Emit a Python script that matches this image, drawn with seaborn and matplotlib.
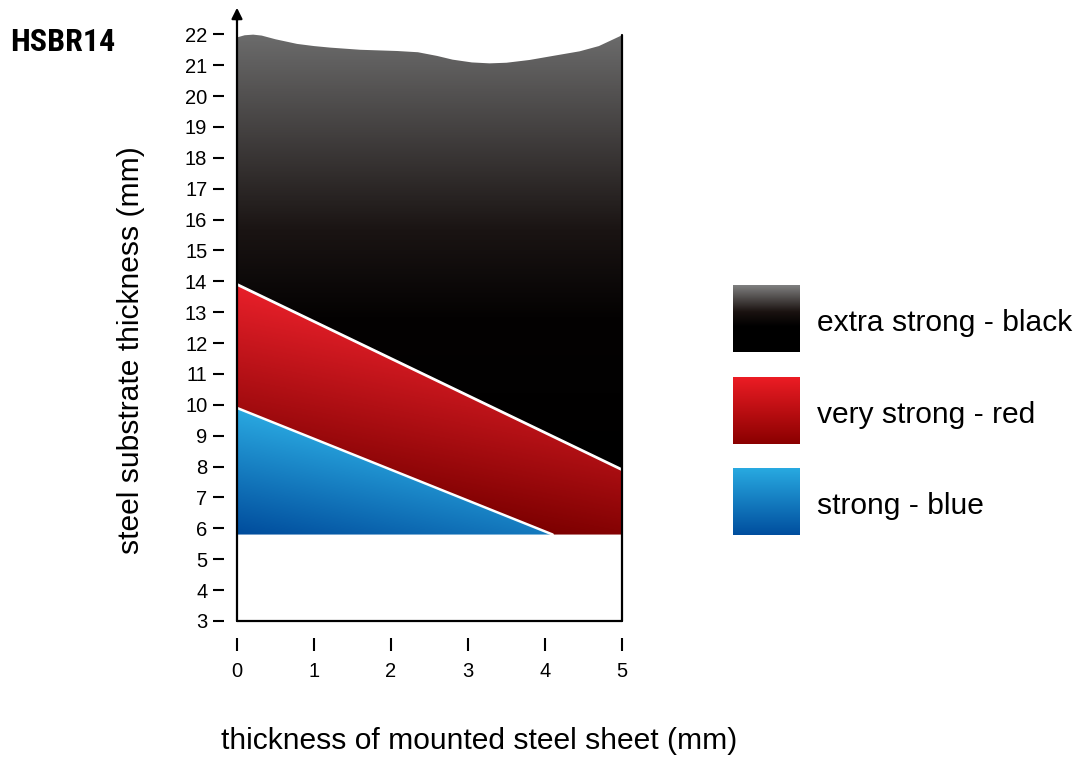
import numpy as np
import matplotlib
matplotlib.use("Agg")
import matplotlib.pyplot as plt
from matplotlib.patches import Polygon
from matplotlib.colors import LinearSegmentedColormap
from matplotlib import font_manager
import seaborn as sns

# ---------------- data ----------------
x_ticks = [0, 1, 2, 3, 4, 5]
y_ticks = list(range(3, 23))

# top (wavy) boundary of the "extra strong - black" zone
top_x = [0, 0.1, 0.21, 0.32, 0.5, 0.78, 1.0, 1.21, 1.6, 2.08, 2.35, 2.6, 2.8, 3.05, 3.28, 3.5, 3.8, 4.1, 4.45, 4.7, 5.0]
top_y = [21.9, 21.97, 21.99, 21.96, 21.84, 21.69, 21.62, 21.57, 21.5, 21.46, 21.42, 21.3, 21.18, 21.09, 21.06, 21.08, 21.17, 21.3, 21.45, 21.62, 21.97]

# boundary black / red
red_top_x = [0, 5]
red_top_y = [13.9, 7.9]
# boundary red / blue
blue_top_x = [0, 4.1]
blue_top_y = [9.9, 5.8]
# floor of all zones
floor_y = 5.8

legend_labels = ["extra strong - black", "very strong - red", "strong - blue"]

title = "HSBR14"
xlabel = "thickness of mounted steel sheet (mm)"
ylabel = "steel substrate thickness (mm)"

# ---------------- style ----------------
sns.set_theme(style="white")
plt.rcParams["font.family"] = ["Liberation Sans", "DejaVu Sans"]
plt.rcParams["text.color"] = "black"
plt.rcParams["xtick.color"] = "black"
plt.rcParams["ytick.color"] = "black"

# pick a condensed font for the title if one is installed
installed = sorted({f.name for f in font_manager.fontManager.ttflist})
cond = [n for n in installed if ("Narrow" in n or "Condensed" in n or "Cond" in n)]
pref = ["Liberation Sans Narrow", "Roboto Condensed", "DejaVu Sans Condensed", "Open Sans Condensed"]
title_family = [n for n in pref if n in installed] + cond + ["Liberation Sans", "DejaVu Sans"]

cmap_black = LinearSegmentedColormap.from_list(
    "blk", [(0.0, "#000000"), (0.35, "#040202"), (0.55, "#1a1413"), (1.0, "#6b6b6b")])
cmap_red = LinearSegmentedColormap.from_list(
    "red", [(0.0, "#6e0000"), (0.25, "#7c0000"), (1.0, "#e8202a")])
cmap_blue = LinearSegmentedColormap.from_list(
    "blu", [(0.0, "#004c9c"), (1.0, "#2aa9e1")])
cmap_black_sw = LinearSegmentedColormap.from_list(
    "blk_sw", [(0.0, "#000000"), (0.38, "#000000"), (0.6, "#1a1210"), (1.0, "#808080")])
cmap_red_sw = LinearSegmentedColormap.from_list(
    "red_sw", [(0.0, "#8a0000"), (1.0, "#ec1c24")])
cmap_blue_sw = LinearSegmentedColormap.from_list(
    "blu_sw", [(0.0, "#004e9e"), (1.0, "#29abe2")])

fig = plt.figure(figsize=(10.79, 7.6), dpi=100)
ax = fig.add_axes([237 / 1079, 1 - 621 / 760, (622 - 237) / 1079, (621 - 5) / 760])

XLIM = (0, 5)
YLIM = (3, 22.95)

gx, gy = np.meshgrid(np.linspace(0, 5, 400), np.linspace(3, 23, 600))


def grad_fill(verts, values, cmap):
    poly = Polygon(verts, closed=True, facecolor="none", edgecolor="none")
    ax.add_patch(poly)
    im = ax.imshow(values, extent=(0, 5, 3, 23), origin="lower", cmap=cmap,
                   vmin=0, vmax=1, aspect="auto", interpolation="bilinear", zorder=1)
    im.set_clip_path(poly)


# black zone
black_verts = list(zip(top_x, top_y)) + [(red_top_x[1], red_top_y[1]), (red_top_x[0], red_top_y[0])]
t_black = np.clip((gy - red_top_y[1]) / (max(top_y) - red_top_y[1]), 0, 1)
grad_fill(black_verts, t_black, cmap_black)

# red zone
red_verts = [(red_top_x[0], red_top_y[0]), (red_top_x[1], red_top_y[1]), (5, floor_y),
             (blue_top_x[1], floor_y), (blue_top_x[0], blue_top_y[0])]
t_red = np.clip((gy + 0.5 * gx - floor_y) / (red_top_y[0] - floor_y), 0, 1)
grad_fill(red_verts, t_red, cmap_red)

# blue zone
blue_verts = [(0, floor_y), (blue_top_x[1], floor_y), (blue_top_x[0], blue_top_y[0])]
t_blue = np.clip((gy + 0.5 * gx - floor_y) / (blue_top_y[0] - floor_y), 0, 1)
grad_fill(blue_verts, t_blue, cmap_blue)

# white separators
sns.lineplot(x=red_top_x, y=red_top_y, color="white", linewidth=2.0, ax=ax, zorder=3)
sns.lineplot(x=blue_top_x, y=blue_top_y, color="white", linewidth=1.8, ax=ax, zorder=3)

# frame: bottom line, right edge, left axis with arrow
ax.plot([0, 5], [3, 3], color="black", linewidth=1.6, zorder=4, clip_on=False)
ax.plot([5, 5], [3, top_y[-1]], color="black", linewidth=1.6, zorder=4, clip_on=False)
ax.plot([0, 0], [3, YLIM[1] - 0.3], color="black", linewidth=1.6, zorder=4, clip_on=False)
ax.annotate("", xy=(0, YLIM[1]), xytext=(0, YLIM[1] - 0.6),
            arrowprops=dict(arrowstyle="-|>", color="black", lw=1.6, mutation_scale=16),
            annotation_clip=False, zorder=5)

ax.set_xlim(*XLIM)
ax.set_ylim(*YLIM)

for s in ["top", "right"]:
    ax.spines[s].set_visible(False)
ax.spines["left"].set_position(("outward", 9.4))
ax.spines["bottom"].set_position(("outward", 12.2))
ax.spines["left"].set_visible(False)
ax.spines["bottom"].set_visible(False)

ax.set_xticks(x_ticks)
ax.set_yticks(y_ticks)
ax.set_xticklabels([str(v) for v in x_ticks])
ax.set_yticklabels([str(v) for v in y_ticks])
ax.tick_params(axis="y", direction="out", length=7.7, width=1.5, pad=4.3,
               labelsize=14.5, color="black", labelcolor="black", left=True)
ax.tick_params(axis="x", direction="out", length=9.4, width=1.5, pad=8.0,
               labelsize=14.5, color="black", labelcolor="black", bottom=True)
ax.set_facecolor("white")
ax.grid(False)

# axis labels
fig.text(131 / 1079, 1 - 350 / 760, ylabel, rotation=90, ha="center", va="center",
         fontsize=21.6, color="black")
fig.text(479 / 1079, 1 - 741 / 760, xlabel, ha="center", va="center", fontsize=21.6, color="black")

# title
fig.text(10 / 1079, 1 - 42 / 760, title, ha="left", va="center", fontsize=23, fontweight="bold",
         family=title_family, color="black")

# legend swatches
sw_tops = [285, 377, 468]
sw_maps = [cmap_black_sw, cmap_red_sw, cmap_blue_sw]
sw_grad = np.linspace(0, 1, 256).reshape(-1, 1)
for top, cm, lab in zip(sw_tops, sw_maps, legend_labels):
    sax = fig.add_axes([733 / 1079, 1 - (top + 67) / 760, 67 / 1079, 67 / 760])
    sax.imshow(sw_grad, origin="lower", cmap=cm, aspect="auto", extent=(0, 1, 0, 1),
               vmin=0, vmax=1)
    sax.set_axis_off()
    fig.text(817 / 1079, 1 - (top + 35) / 760, lab, ha="left", va="center_baseline",
             fontsize=21.6, color="black")

fig.savefig("out.png", dpi=100, facecolor="white")
